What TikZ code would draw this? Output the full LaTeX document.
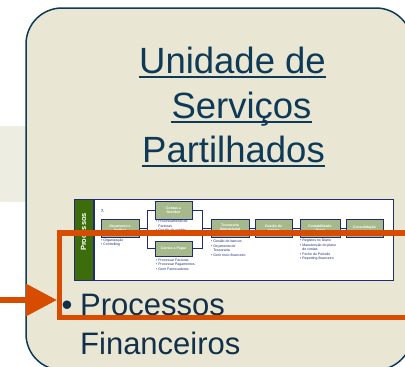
\documentclass[tikz,border=0pt]{standalone}
\usepackage{fontspec}
\setmainfont{Liberation Sans}
\usetikzlibrary{arrows.meta}
\definecolor{beige}{HTML}{E9E7D4}
\definecolor{band}{HTML}{EEEDE1}
\definecolor{navy}{HTML}{0E3A58}
\definecolor{txtnavy}{HTML}{12304A}
\definecolor{mnavy}{HTML}{1E2C78}
\definecolor{mgreen}{HTML}{A6B98C}
\definecolor{dgreen}{HTML}{3D6D0B}
\definecolor{orng}{HTML}{D84C00}
\begin{document}
\begin{tikzpicture}[x=1pt,y=-1pt,
  title/.style={font=\fontsize{36.5}{40}\selectfont, text=navy, anchor=base, inner sep=0pt},
  uline/.style={draw=navy, line width=2pt},
  mbox/.style={draw=mnavy, line width=0.8pt, fill=mgreen, minimum height=18pt, minimum width=38pt, inner sep=0pt, align=center, text=white, font=\fontsize{3.5}{4}\selectfont\bfseries},
  mlist/.style={anchor=north west, inner sep=0pt, align=left, text=mnavy, font=\fontsize{3.5}{4.5}\selectfont},
  conn/.style={draw=mnavy, line width=0.8pt},
  body/.style={anchor=base west, inner sep=0pt, text=txtnavy, font=\fontsize{31}{35}\selectfont},
]
\useasboundingbox (0,0) rectangle (405,367);
\clip (0,0) rectangle (405,367);
\fill[band] (0,126) rectangle (26,202);
\draw[fill=beige, draw=navy, line width=1.5pt, rounded corners=36pt] (26,8) rectangle (412,370);

% title
\node[title] (t1) at (232.5,73) {Unidade de};
\node[title] (t2) at (241.5,118) {Serviços};
\node[title] (t3) at (233.5,162) {Partilhados};
\draw[uline] ([yshift=-4.3pt]t1.base west) -- ([yshift=-4.3pt]t1.base east);
\draw[uline] ([yshift=-4.3pt]t2.base west) -- ([yshift=-4.3pt]t2.base east);
\draw[uline] ([yshift=-4.3pt]t3.base west) -- ([yshift=-4.3pt]t3.base east);

% mini diagram
\node[draw=mnavy, line width=0.8pt, fill=white, minimum width=298.5pt, minimum height=81pt, inner sep=0pt] (frame) at (243.75,239.5) {};
\node[draw=mnavy, line width=0.8pt, fill=dgreen, minimum width=19pt, minimum height=81pt, inner sep=0pt] (bar) at (83.5,239.5) {};
\node[rotate=90, text=white, inner sep=0pt, font=\fontsize{7.5}{8}\selectfont\bfseries] (barlbl) at (83.5,232) {Processos};
\node[anchor=west, inner sep=0pt, text=mnavy, font=\fontsize{3.8}{4}\selectfont\bfseries] (seven) at (101,211) {7.};

\coordinate (bl) at (147,228);
\coordinate (br) at (202,228);
\node[mbox] (oa) at (120,228) {Orçamento e\\Análise};
\node[mbox, minimum width=37pt] (cr) at (173.5,210) {Contas a\\Receber};
\node[mbox, minimum width=37pt, minimum height=15pt] (cp) at (173.5,248.5) {Contas a Pagar};
\node[mbox] (to) at (230,228) {Tesouraria\\Operacional};
\node[mbox, minimum width=37pt] (ga) at (273.5,228) {Gestão de\\activos};
\node[mbox, minimum width=40pt] (cg) at (320,228) {Contabilidade\\Geral};
\node[mbox, minimum width=37pt] (co) at (364.5,228) {Consolidação};
\draw[conn] (oa.east) -- (bl);
\draw[conn] (cr.west) -| (bl);
\draw[conn] (cp.west) -| (bl);
\draw[conn] (cr.east) -| (br);
\draw[conn] (cp.east) -| (br);
\draw[conn] (br) -- (to.west);
\draw[conn] (to.east) -- (ga.west);
\draw[conn] (ga.east) -- (cg.west);
\draw[conn] (cg.east) -- (co.west);

\node[mlist] (loa) at (101,238.5) {• Organização\\• Controlling};
\node[mlist] (lcr) at (156,220) {• Processamento de\\\phantom{• }Facturas\\• Gestão de crédito};
\node[mlist] (lcp) at (156,258.5) {• Processar Facturas\\• Processar Pagamentos\\• Gerir Fornecedores};
\node[mlist] (lto) at (211,240) {• Gestão de bancos\\• Orçamento de\\\phantom{• }Tesouraria\\• Gerir risco financeiro};
\node[mlist] (lcg) at (300,239) {• Registos no Diário\\• Manutenção do plano\\\phantom{• }de contas\\• Fecho do Período\\• Reporting financeiro};

% body text
\node[body] (bul) at (61.5,315) {•};
\node[body] (p1) at (80,315) {Processos};
\node[body] (p2) at (80,354) {Financeiros};

% orange highlight
\draw[orng, line width=5.5pt] (59.5,233) rectangle (430,317.5);
\coordinate (as) at (0,300);
\coordinate (at) at (57,300);
\draw[orng, line width=6pt, -{Triangle[length=31pt,width=31pt]}] (as) -- (at);
\end{tikzpicture}
\end{document}
